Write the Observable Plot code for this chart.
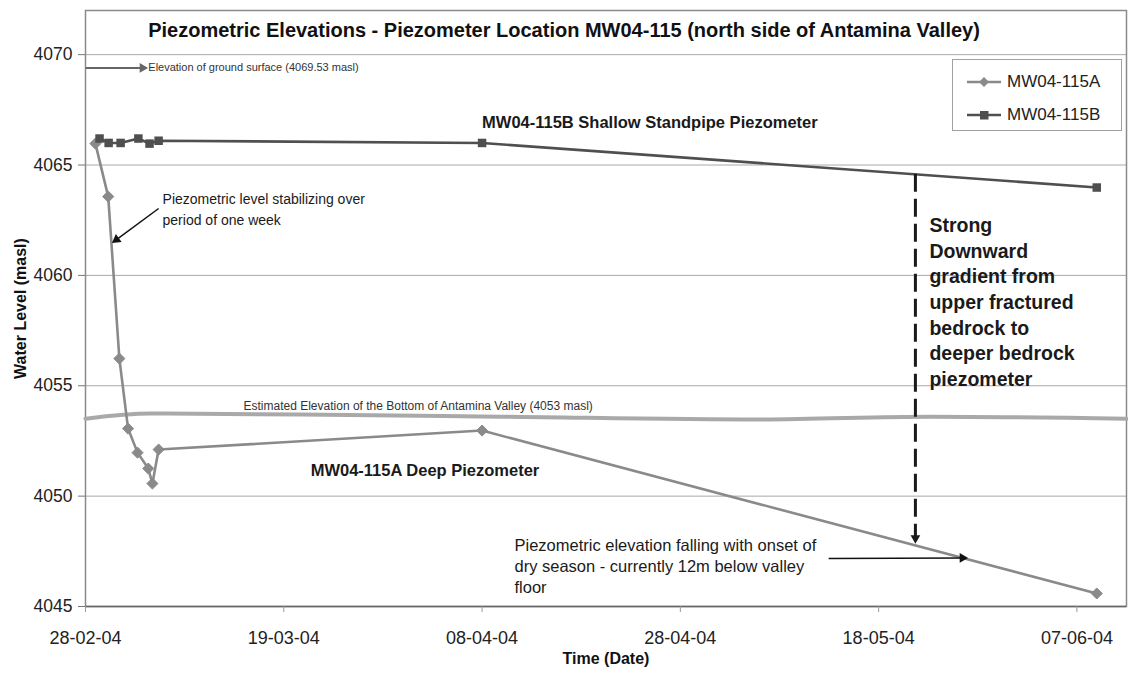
<!DOCTYPE html>
<html><head><meta charset="utf-8">
<script src="https://cdn.jsdelivr.net/npm/d3@7"></script>
<script src="https://cdn.jsdelivr.net/npm/@observablehq/plot@0.6"></script>
<style>
body{margin:0;background:#fff;font-family:"Liberation Sans",Arial,sans-serif;}
#wrap{position:relative;width:1128px;height:674px;overflow:hidden;}
#legend{position:absolute;left:952px;top:59px;width:168px;height:70px;border:1px solid #a0a0a0;background:#fff;font-size:17px;color:#222;}
#legend .row{position:absolute;left:14px;height:20px;display:flex;align-items:center;}
#legend .row svg{margin-right:4px;}
</style></head><body>
<div id="wrap"><div id="chart"></div><div id="legend"></div></div>
<script>
// ---- data ----
const seriesNames = ["MW04-115A", "MW04-115B"];
const datesA = ["2004-02-29T00:00","2004-03-01T07:00","2004-03-02T10:00","2004-03-03T07:00","2004-03-04T06:00","2004-03-05T08:00","2004-03-05T18:00","2004-03-06T09:00","2004-04-08T00:00","2004-06-09T00:00"];
const levelsA = [4065.97,4063.57,4056.23,4053.06,4051.97,4051.25,4050.57,4052.11,4052.97,4045.59];
const datesB = ["2004-02-29T10:00","2004-03-01T08:00","2004-03-02T13:00","2004-03-04T08:00","2004-03-05T11:00","2004-03-06T09:00","2004-04-08T00:00","2004-06-09T00:00"];
const levelsB = [4066.2,4066.0,4066.0,4066.2,4065.97,4066.1,4066.0,4063.98];
const valleyDates = ["2004-02-28T00:00","2004-03-05T14:00","2004-03-20T17:00","2004-04-09T22:00","2004-05-06T02:00","2004-05-23T05:00","2004-06-12T00:00"];
const valleyLevels = [4053.51,4053.74,4053.70,4053.60,4053.47,4053.60,4053.51];
const groundLevel = 4069.4;
const xTickDates = ["2004-02-28T00:00","2004-03-19T00:00","2004-04-08T00:00","2004-04-28T00:00","2004-05-18T00:00","2004-06-07T00:00"];
const yTicks = [4045,4050,4055,4060,4065,4070];
const xDomain = ["2004-02-28T00:00","2004-06-12T00:00"];
const yDomain = [4045,4072];

const P = s => new Date(s + "Z");
const A = datesA.map((d,i)=>({date:P(d), level:levelsA[i]}));
const B = datesB.map((d,i)=>({date:P(d), level:levelsB[i]}));
const V = valleyDates.map((d,i)=>({date:P(d), level:valleyLevels[i]}));

// annotation anchors in data coordinates
const arrows = [
  {from:["2004-02-28T00:00",groundLevel], to:["2004-03-04T18:00",groundLevel], color:"#666", width:2, dash:null, rot:90},
  {from:["2004-03-06T09:00",4063.03], to:["2004-03-02T03:00",4061.62], color:"#111", width:1.5, dash:null, rot:234},
  {from:["2004-05-21T17:00",4064.6], to:["2004-05-21T17:00",4048.1], color:"#1a1a1a", width:3, dash:"18,7", rot:180},
  {from:["2004-05-12T23:00",4047.17], to:["2004-05-26T11:00",4047.2], color:"#111", width:1.5, dash:null, rot:90}
];

const cA = "#8a8a8a", cB = "#4f4f4f";
const font = "'Liberation Sans', Arial, sans-serif";

function note(text, date, level, opts){
  return Plot.text([text], {x: P(date), y: level, text: d=>d, textAnchor:"start", fill:"#1a1a1a", ...opts});
}

const marks = [
  Plot.ruleY(yTicks.filter(v=>v>4045), {stroke:"#a8a8a8", strokeWidth:1}),
  Plot.frame({stroke:"#8a8a8a", strokeWidth:1.5}),
  Plot.ruleY([4045], {stroke:"#666", strokeWidth:1.5}),
  Plot.axisY(yTicks, {tickSize:7, tickPadding:6, fontSize:17.5, tickFormat:d3.format("d"), label:null, stroke:"#777", fill:"#222"}),
  Plot.axisX(xTickDates.map(P), {tickSize:6, tickPadding:19, fontSize:18, tickFormat:d3.utcFormat("%d-%m-%y"), label:null, stroke:"#999", fill:"#222"}),
  Plot.line(V, {x:"date", y:"level", stroke:"#a9a9a9", strokeWidth:4, curve:"monotone-x"}),
  Plot.line(A, {x:"date", y:"level", stroke:cA, strokeWidth:2.6}),
  Plot.dot(A, {x:"date", y:"level", symbol:"diamond2", r:5, fill:cA, stroke:cA, strokeWidth:1}),
  Plot.line(B, {x:"date", y:"level", stroke:cB, strokeWidth:2.6}),
  Plot.dot(B, {x:"date", y:"level", symbol:"square", r:4.8, fill:cB, stroke:"none"}),
  ...arrows.map(a => Plot.link([a], {x1:d=>P(d.from[0]), y1:d=>d.from[1], x2:d=>P(d.to[0]), y2:d=>d.to[1], stroke:a.color, strokeWidth:a.width, strokeDasharray:a.dash})),
  ...arrows.map(a => Plot.dot([a], {x:d=>P(d.to[0]), y:d=>d.to[1], symbol:"triangle", r:3.6, fill:a.color, stroke:"none", rotate:a.rot})),
  Plot.text(["Piezometric Elevations - Piezometer Location MW04-115 (north side of Antamina Valley)"], {frameAnchor:"top", dx:-42, dy:20, lineAnchor:"middle", fontSize:20, fontWeight:"bold", fill:"#111"}),
  Plot.text(["Water Level (masl)"], {frameAnchor:"left", textAnchor:"middle", dx:-65, rotate:-90, fontSize:16, fontWeight:"bold", fill:"#111"}),
  Plot.text(["Time (Date)"], {frameAnchor:"bottom", dy:57, fontSize:16, fontWeight:"bold", fill:"#111"}),
  note("Elevation of ground surface (4069.53 masl)", "2004-03-05T08:00", groundLevel, {fontSize:11, fill:"#333"}),
  note("MW04-115B Shallow Standpipe Piezometer", "2004-04-08T00:00", 4066.92, {fontSize:16.5, fontWeight:"bold"}),
  note("MW04-115A Deep Piezometer", "2004-03-21T17:00", 4051.16, {fontSize:16.5, fontWeight:"bold"}),
  note("Piezometric level stabilizing over\nperiod of one week", "2004-03-06T18:30", 4063.07, {fontSize:14, lineHeight:1.5}),
  note("Estimated Elevation of the Bottom of Antamina Valley (4053 masl)", "2004-03-14T22:30", 4054.06, {fontSize:12, fill:"#333"}),
  note("Strong\nDownward\ngradient from\nupper fractured\nbedrock to\ndeeper bedrock\npiezometer", "2004-05-23T03:00", 4058.85, {fontSize:19.5, fontWeight:"bold", lineHeight:1.32}),
  note("Piezometric elevation falling with onset of\ndry season - currently 12m below valley\nfloor", "2004-04-11T06:30", 4046.85, {fontSize:16.5, lineHeight:1.27})
];

const chart = Plot.plot({
  width:1128, height:674,
  marginLeft:85, marginRight:2, marginTop:10, marginBottom:68,
  x:{type:"utc", domain:xDomain.map(P)},
  y:{domain:yDomain},
  style:{fontFamily:font, background:"#fff", color:"#222"},
  marks
});
document.getElementById("chart").append(chart);

// legend
const lg = document.getElementById("legend");
const swatch = (name, i) => {
  const c = i===0 ? cA : cB;
  const m = i===0 ? `<path d="M17 1 L22 6 L17 11 L12 6Z" fill="${c}"/>` : `<rect x="13" y="2" width="8.5" height="8.5" fill="${c}"/>`;
  return `<div class="row" style="top:${i===0?12:45}px"><svg width="36" height="12"><line x1="0" y1="6" x2="34" y2="6" stroke="${c}" stroke-width="2.6"/>${m}</svg><span>${name}</span></div>`;
};
lg.innerHTML = seriesNames.map(swatch).join("");
</script>
</body></html>
